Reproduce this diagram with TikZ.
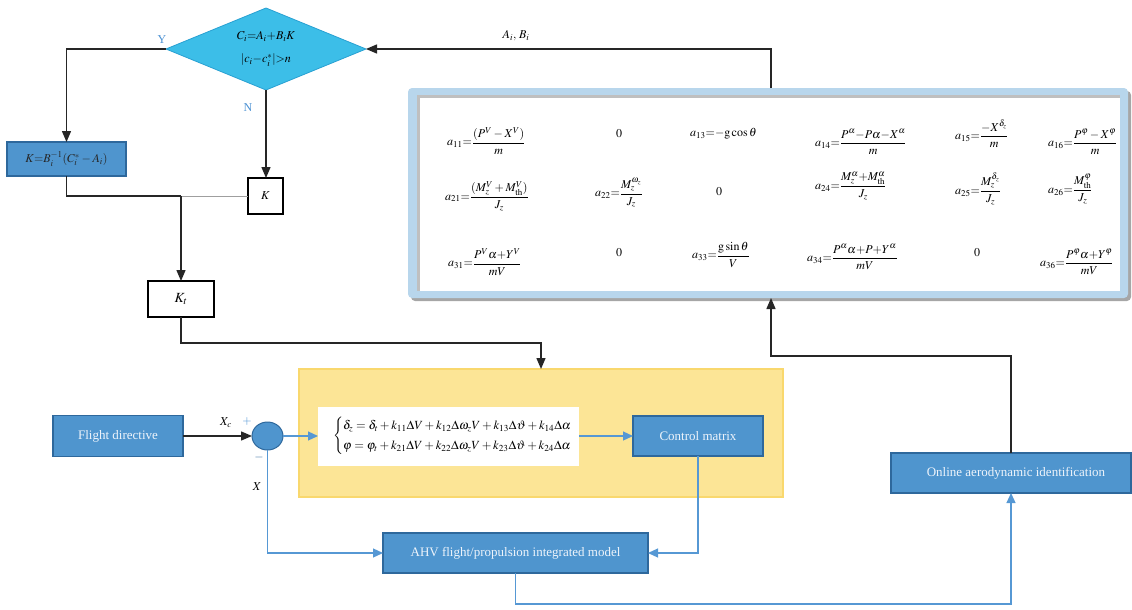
\documentclass[tikz,border=0pt]{standalone}
\usepackage{amsmath}
\usepackage{mathptmx}
\usepackage[no-math]{fontspec}
\setmainfont{Liberation Serif}
\usetikzlibrary{arrows.meta,shapes.geometric,calc}

\definecolor{boxblue}{RGB}{79,149,206}
\definecolor{boxedge}{RGB}{46,104,156}
\definecolor{linkblue}{RGB}{86,152,212}
\definecolor{diacyan}{RGB}{60,190,232}
\definecolor{diaedge}{RGB}{40,160,210}
\definecolor{panelblue}{RGB}{184,214,236}
\definecolor{sunfill}{RGB}{252,229,150}
\definecolor{sunedge}{RGB}{249,216,110}
\definecolor{labblue}{RGB}{74,144,210}
\definecolor{boxtext}{RGB}{238,244,251}

\tikzset{
  bluebox/.style={draw=boxedge, fill=boxblue, line width=1.2pt, text=boxtext,
    font=\fontsize{13}{15}\selectfont, inner sep=0pt, outer sep=0pt},
  plainbox/.style={draw=black, fill=white, line width=1.3pt, inner sep=0pt, outer sep=0pt,
    font=\fontsize{12}{14}\selectfont},
  blkarrow/.style={line width=1.4pt, black!85, -{Triangle[length=11pt,width=9pt]}},
  bluarrow/.style={line width=1.2pt, linkblue, -{Triangle[length=10pt,width=9pt]}},
  blkline/.style={line width=1.4pt, black!85},
  entry/.style={anchor=west, inner sep=0pt, font=\fontsize{12}{14}\selectfont},
  tag/.style={inner sep=0pt, font=\fontsize{12}{14}\selectfont},
}

\begin{document}
\begin{tikzpicture}[x=1pt,y=-1pt]
\useasboundingbox (0,0) rectangle (1132,610);

% coefficient panel
\node[minimum width=720pt, minimum height=210pt, inner sep=0pt, outer sep=0pt] (panel) at (768,193) {};
\fill[gray!70, rounded corners=4pt] ($(panel.north west)+(3,3)$) rectangle ($(panel.south east)+(3,3)$);
\fill[panelblue, rounded corners=4pt] (panel.north west) rectangle (panel.south east);
\fill[gray!50] (417,95) rectangle (1120,291);
\fill[white] (420,98) rectangle (1120,291);

% row 1
\node[entry] (a11) at (447,141) {$a_{11}{=}\dfrac{(P^{V}-X^{V})}{m}$};
\node[entry] (z12) at (616,134) {$0$};
\node[entry] (a13) at (690,134) {$a_{13}{=}{-}\mathrm{g}\cos\theta$};
\node[entry] (a14) at (815,142) {$a_{14}{=}\dfrac{P^{\alpha}{-}P\alpha{-}X^{\alpha}}{m}$};
\node[entry] (a15) at (955,134) {$a_{15}{=}\dfrac{-X^{\delta_z}}{m}$};
\node[entry] (a16) at (1048,142) {$a_{16}{=}\dfrac{P^{\varphi}-X^{\varphi}}{m}$};
% row 2
\node[entry] (a21) at (445,196) {$a_{21}{=}\dfrac{(M_z^{V}+M_{\mathrm{th}}^{V})}{J_z}$};
\node[entry] (a22) at (595,193) {$a_{22}{=}\dfrac{M_z^{\omega_z}}{J_z}$};
\node[entry] (z23) at (716,192) {$0$};
\node[entry] (a24) at (815,186) {$a_{24}{=}\dfrac{M_z^{\alpha}{+}M_{\mathrm{th}}^{\alpha}}{J_z}$};
\node[entry] (a25) at (955,189) {$a_{25}{=}\dfrac{M_z^{\delta_z}}{J_z}$};
\node[entry] (a26) at (1048,189) {$a_{26}{=}\dfrac{M_{\mathrm{th}}^{\varphi}}{J_z}$};
% row 3
\node[entry] (a31) at (448,262) {$a_{31}{=}\dfrac{P^{V}\alpha{+}Y^{V}}{mV}$};
\node[entry] (z32) at (616,253) {$0$};
\node[entry] (a33) at (692,255) {$a_{33}{=}\dfrac{\mathrm{g}\sin\theta}{V}$};
\node[entry] (a34) at (807,257) {$a_{34}{=}\dfrac{P^{\alpha}\alpha{+}P{+}Y^{\alpha}}{mV}$};
\node[entry] (z35) at (974,253) {$0$};
\node[entry] (a36) at (1040,262) {$a_{36}{=}\dfrac{P^{\varphi}\alpha{+}Y^{\varphi}}{mV}$};

% decision diamond
\node[diamond, shape aspect=2.4, draw=diaedge, fill=diacyan, line width=0.8pt, minimum width=200pt, minimum height=82pt,
  inner sep=0pt, outer sep=0pt, align=center, font=\fontsize{12}{14}\selectfont] (dia) at (266,49)
  {$C_i{=}A_i{+}B_iK$\\[9pt]$|c_i{-}c_i^{*}|{>}n$};

% gain boxes
\node[bluebox, text=black!85, font=\fontsize{12}{14}\selectfont, minimum width=119pt, minimum height=34pt] (kinv) at (66.5,159)
  {$K{=}B_i^{-1}(C_i^{*}-A_i)$};
\node[plainbox, minimum width=35pt, minimum height=36pt] (kbox) at (265.5,196) {$K$};
\node[plainbox, minimum width=66pt, minimum height=36pt, font=\fontsize{14}{16}\selectfont] (kt) at (181,299) {$K_t$};

% controller block
\node[draw=sunedge, fill=sunfill, line width=1.2pt, minimum width=484pt, minimum height=128pt,
  inner sep=0pt, outer sep=0pt] (ctl) at (541,433) {};
\node[fill=white, minimum width=261pt, minimum height=59pt, inner sep=0pt, outer sep=0pt,
  font=\fontsize{12.5}{15}\selectfont] (law) at (448.5,436)
  {\makebox[261pt][l]{\hspace*{15pt}$\begin{cases}\delta_z=\delta_t+k_{11}\Delta V+k_{12}\Delta\omega_z V+k_{13}\Delta\vartheta+k_{14}\Delta\alpha\\[2pt]
  \varphi=\varphi_t+k_{21}\Delta V+k_{22}\Delta\omega_z V+k_{23}\Delta\vartheta+k_{24}\Delta\alpha\end{cases}$}};
\node[bluebox, minimum width=130pt, minimum height=40pt] (cm) at (698,436) {Control matrix};

% loop blocks
\node[bluebox, minimum width=130pt, minimum height=41pt] (fd) at (118,436) {Flight directive};
\node[ellipse, draw=boxedge, fill=boxblue, line width=1pt, minimum width=31pt, minimum height=28pt,
  inner sep=0pt, outer sep=0pt] (sum) at (267.5,436) {};
\node[bluebox, minimum width=265pt, minimum height=40pt] (ahv) at (515.5,553) {AHV flight/propulsion integrated model};
\node[bluebox, minimum width=240pt, minimum height=40pt] (oid) at (1011,473)
  {\hspace*{10pt}Online aerodynamic identification};

% routing points
\coordinate (abx) at (771,0);
\coordinate (jn) at (181,196);
\coordinate (kb) at (181,343);
\coordinate (fb) at (0,604);
\coordinate (ob) at (0,356);

% connectors
\draw[blkarrow] (abx |- panel.north) -- (abx |- dia.east) -- (dia.east);
\draw[blkarrow] (dia.west) -- (kinv.north |- dia.west) -- (kinv.north);
\draw[blkarrow] (dia.south) -- (dia.south |- kbox.north);
\draw[blkline] (kinv.south) -- (kinv.south |- jn) -- (jn);
\draw[gray!75, line width=1pt] (jn) -- (kbox.west);
\draw[blkarrow] (jn) -- (kt.north);
\draw[blkarrow] (kt.south) -- (kb) -- (kb -| ctl.north) -- (ctl.north);
\draw[blkarrow] (fd.east) -- (sum.west);
\draw[bluarrow] (sum.east) -- (law.west);
\draw[bluarrow] (law.east) -- (cm.west);
\draw[bluarrow] (cm.south) -- (cm.south |- ahv.east) -- (ahv.east);
\draw[bluarrow] (sum.south) -- (sum.south |- ahv.west) -- (ahv.west);
\draw[bluarrow] (ahv.south) -- (ahv.south |- fb) -- (fb -| oid.south) -- (oid.south);
\draw[blkarrow] (oid.north) -- (oid.north |- ob) -- (abx |- ob) -- (abx |- panel.south);

% labels
\node[tag, text=labblue] (ylab) at (162,40) {Y};
\node[tag, text=labblue] (nlab) at (248,108) {N};
\node[tag, font=\fontsize{12}{14}\selectfont] (ablab) at (516,36) {$A_i,\,B_i$};
\node[tag] (xclab) at (226,423) {$X_c$};
\node[tag, text=labblue] (plab) at (247,421) {$+$};
\node[tag, text=boxedge] (mlab) at (259,457) {$-$};
\node[tag] (xlab) at (257,487) {$X$};
\end{tikzpicture}
\end{document}
